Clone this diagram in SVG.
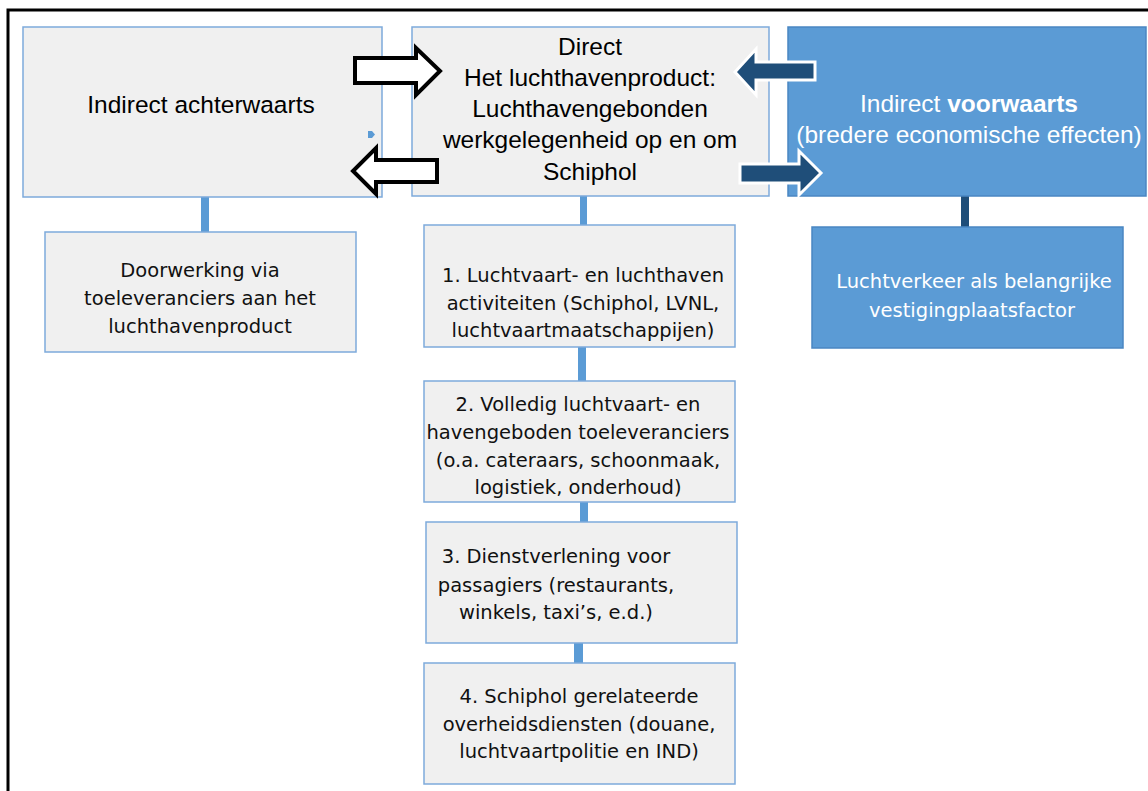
<svg xmlns="http://www.w3.org/2000/svg" width="1148" height="791" viewBox="0 0 1148 791">
<style>
.box{fill:#f0f0f0;stroke:#7eaadb;stroke-width:1.5}
.bbox{fill:#5b9bd5;stroke:#4a86c2;stroke-width:1.5}
.big{font-family:"Liberation Sans",Arial,sans-serif;font-size:24.5px;fill:#000;text-anchor:middle}
.bigw{font-family:"Liberation Sans",Arial,sans-serif;font-size:24.5px;fill:#fff;text-anchor:middle}
.sm{font-family:"DejaVu Sans",sans-serif;font-size:19.5px;fill:#111;text-anchor:middle}
.smw{font-family:"DejaVu Sans",sans-serif;font-size:19.5px;fill:#fff;text-anchor:middle}
.wa{fill:#fff;stroke:#000;stroke-width:4;stroke-linejoin:miter}
.da{fill:#1f4e79;stroke:#fff;stroke-width:3;stroke-linejoin:miter}
.lc{fill:#5b9bd5}
.dc{fill:#1f4e79}
</style>
<rect width="1148" height="791" fill="#fff"/>
<path d="M8,791 V10 H1148" fill="none" stroke="#000" stroke-width="3"/>
<g id="connectors">
<rect class="lc" x="201" y="197" width="8" height="35"/>
<rect class="lc" x="580" y="196" width="7" height="29"/>
<rect class="lc" x="578" y="347" width="8" height="34"/>
<rect class="lc" x="580" y="502" width="8" height="20"/>
<rect class="lc" x="574" y="643" width="9" height="20"/>
<rect class="dc" x="961" y="196" width="8" height="31"/>
</g>
<g id="node-indirect-achterwaarts">
<rect class="box" x="23" y="27" width="359" height="170"/>
<text class="big" x="201" y="113">Indirect achterwaarts</text>
<polygon class="lc" points="368,131 372,131 375,134.5 372,138 368,138"/>
</g>
<g id="node-direct">
<rect class="box" x="412" y="27" width="357" height="169"/>
<text class="big" x="590" y="55">Direct</text>
<text class="big" x="590" y="86">Het luchthavenproduct:</text>
<text class="big" x="590" y="117">Luchthavengebonden</text>
<text class="big" x="590" y="148">werkgelegenheid op en om</text>
<text class="big" x="590" y="180">Schiphol</text>
</g>
<g id="node-indirect-voorwaarts">
<rect class="bbox" x="788" y="27" width="358" height="169"/>
<text class="bigw" x="969" y="112">Indirect <tspan font-weight="bold">voorwaarts</tspan></text>
<text class="bigw" x="969" y="143">(bredere economische effecten)</text>
</g>
<g id="arrows">
<polygon class="wa" points="355,58 416,58 416,48 440,71 416,95 416,83 355,83"/>
<polygon class="wa" points="437,160 376,160 376,148 353,171 376,194 376,182 437,182"/>
<polygon class="da" points="815,62 756,62 756,49 735,72 756,95 756,80 815,80"/>
<polygon class="da" points="740,164 799,164 799,151 821,173 799,195 799,183 740,183"/>
</g>
<g id="node-doorwerking">
<rect class="box" x="45" y="232" width="311" height="120"/>
<text class="sm" x="200" y="277">Doorwerking via</text>
<text class="sm" x="200" y="305">toeleveranciers aan het</text>
<text class="sm" x="200" y="333">luchthavenproduct</text>
</g>
<g id="node-1">
<rect class="box" x="424" y="225" width="311" height="122"/>
<text class="sm" x="583" y="282">1. Luchtvaart- en luchthaven</text>
<text class="sm" x="583" y="310">activiteiten (Schiphol, LVNL,</text>
<text class="sm" x="583" y="337">luchtvaartmaatschappijen)</text>
</g>
<g id="node-2">
<rect class="box" x="424" y="381" width="311" height="121"/>
<text class="sm" x="578" y="411">2. Volledig luchtvaart- en</text>
<text class="sm" x="578" y="439">havengeboden toeleveranciers</text>
<text class="sm" x="578" y="467">(o.a. cateraars, schoonmaak,</text>
<text class="sm" x="578" y="494">logistiek, onderhoud)</text>
</g>
<g id="node-3">
<rect class="box" x="426" y="522" width="311" height="121"/>
<text class="sm" x="556" y="563">3. Dienstverlening voor</text>
<text class="sm" x="556" y="592">passagiers (restaurants,</text>
<text class="sm" x="556" y="619">winkels, taxi’s, e.d.)</text>
</g>
<g id="node-4">
<rect class="box" x="424" y="663" width="311" height="121"/>
<text class="sm" x="579" y="703">4. Schiphol gerelateerde</text>
<text class="sm" x="579" y="731">overheidsdiensten (douane,</text>
<text class="sm" x="579" y="758">luchtvaartpolitie en IND)</text>
</g>
<g id="node-luchtverkeer">
<rect class="bbox" x="812" y="227" width="311" height="121"/>
<text class="smw" x="974" y="288">Luchtverkeer als belangrijke</text>
<text class="smw" x="972" y="317">vestigingplaatsfactor</text>
</g>
</svg>
